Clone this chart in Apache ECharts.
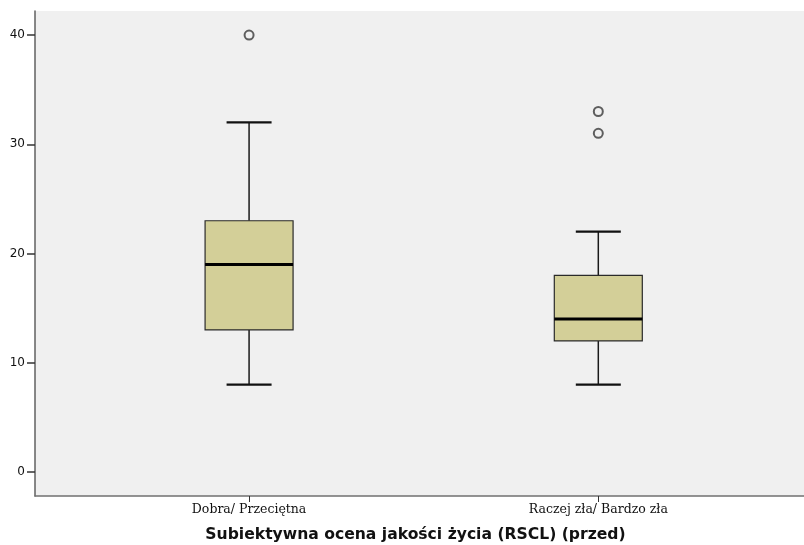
<!DOCTYPE html>
<html>
<head>
<meta charset="utf-8">
<script src="https://cdn.jsdelivr.net/npm/echarts@6/dist/echarts.min.js"></script>
<style>
  html, body { margin: 0; padding: 0; background: #ffffff; }
  #chart { width: 804px; height: 545px; }
</style>
</head>
<body>
<div id="chart"></div>
<script>
// Groups on the horizontal axis
const categories = ['Dobra/ Przeciętna', 'Raczej zła/ Bardzo zła'];
// Box statistics per group: [whisker low, Q1, median, Q3, whisker high]
const boxStats = [
  [8, 13, 19, 23, 32],
  [8, 12, 14, 18, 22]
];
// Outlying observations: [group index, value]
const outliers = [
  [0, 40],
  [1, 33],
  [1, 31]
];
const yTicks = [0, 10, 20, 30, 40];
const axisTitle = 'Subiektywna ocena jakości życia (RSCL) (przed)';

const chart = echarts.init(document.getElementById('chart'), null, { renderer: 'canvas' });

const BOX_W = 88;   // box width in px
const CAP_W = 45;   // whisker cap width in px

function renderBox(params, api) {
  const x = api.value(0);
  const lo = api.coord([x, api.value(1)]);
  const q1 = api.coord([x, api.value(2)]);
  const md = api.coord([x, api.value(3)]);
  const q3 = api.coord([x, api.value(4)]);
  const hi = api.coord([x, api.value(5)]);
  const cx = lo[0];
  const stroke = '#1a1a1a';
  return {
    type: 'group',
    children: [
      { type: 'line', shape: { x1: cx, y1: q3[1], x2: cx, y2: hi[1] }, style: { stroke: stroke, lineWidth: 1.5 } },
      { type: 'line', shape: { x1: cx, y1: q1[1], x2: cx, y2: lo[1] }, style: { stroke: stroke, lineWidth: 1.5 } },
      { type: 'line', shape: { x1: cx - CAP_W / 2, y1: hi[1], x2: cx + CAP_W / 2, y2: hi[1] }, style: { stroke: '#111', lineWidth: 2.2 } },
      { type: 'line', shape: { x1: cx - CAP_W / 2, y1: lo[1], x2: cx + CAP_W / 2, y2: lo[1] }, style: { stroke: '#111', lineWidth: 2.2 } },
      { type: 'rect', shape: { x: cx - BOX_W / 2, y: q3[1], width: BOX_W, height: q1[1] - q3[1] },
        style: { fill: '#d3cf98', stroke: '#2a2a2a', lineWidth: 1.2 } },
      { type: 'line', shape: { x1: cx - BOX_W / 2, y1: md[1], x2: cx + BOX_W / 2, y2: md[1] }, style: { stroke: '#000', lineWidth: 3 } }
    ]
  };
}

chart.setOption({
  animation: false,
  backgroundColor: '#ffffff',
  grid: {
    left: 35, right: 0, top: 11, bottom: 49,
    outerBoundsMode: 'none',
    containLabel: false,
    show: true, backgroundColor: '#f0f0f0', borderWidth: 0
  },
  xAxis: {
    type: 'value',
    min: -0.613, max: 1.589,
    splitLine: { show: false },
    axisLine: { show: true, onZero: false, lineStyle: { color: '#707070', width: 1.5 } },
    axisTick: { show: true, length: 6, lineStyle: { color: '#333', width: 1 }, customValues: [0, 1] },
    axisLabel: {
      customValues: [0, 1],
      formatter: v => categories[Math.round(v)] || '',
      fontFamily: 'DejaVu Serif, serif',
      fontSize: 12.5, color: '#111', margin: 7
    },
    name: axisTitle,
    nameLocation: 'middle',
    nameGap: 31,
    nameTextStyle: {
      fontFamily: 'DejaVu Sans, sans-serif',
      fontWeight: 'bold', fontSize: 15.6, color: '#111',
      padding: [0, 8, 0, 0]
    }
  },
  yAxis: {
    type: 'value',
    min: -2.2, max: 42.2,
    splitLine: { show: false },
    axisLine: { show: true, onZero: false, lineStyle: { color: '#606060', width: 1.5 } },
    axisTick: { show: true, length: 8, lineStyle: { color: '#333', width: 1.5 }, customValues: yTicks },
    axisLabel: {
      customValues: yTicks,
      fontFamily: 'DejaVu Sans, sans-serif',
      fontSize: 12, color: '#111', margin: 10
    }
  },
  series: [
    {
      type: 'custom',
      renderItem: renderBox,
      encode: { x: 0, y: [1, 2, 3, 4, 5] },
      data: boxStats.map((s, i) => [i].concat(s)),
      z: 2
    },
    {
      type: 'scatter',
      data: outliers,
      symbol: 'circle',
      symbolSize: 9,
      itemStyle: { color: 'transparent', borderColor: '#3a3a3a', borderWidth: 2 },
      z: 3
    }
  ]
});
</script>
</body>
</html>
